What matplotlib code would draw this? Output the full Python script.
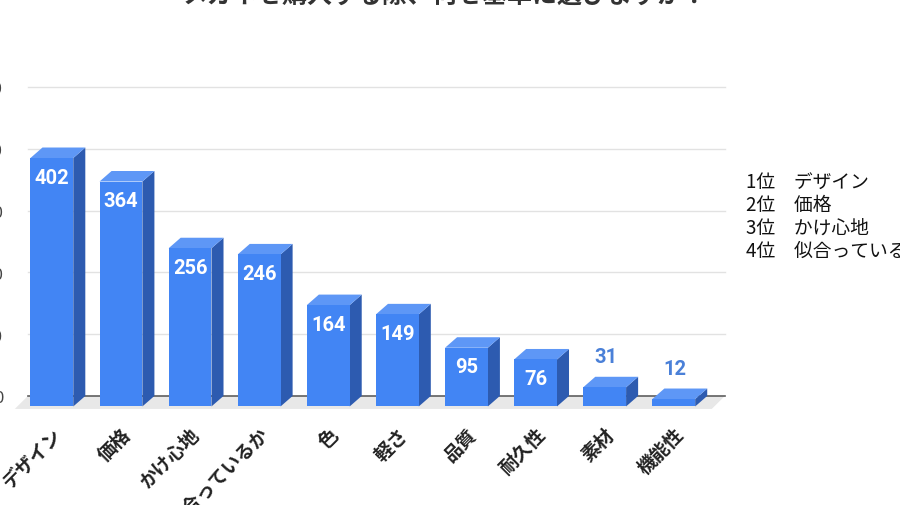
import numpy as np
import matplotlib.pyplot as plt
from matplotlib.patches import Polygon

plt.rcParams['font.family'] = ['Noto Sans CJK JP', 'DejaVu Sans']

# data
categories = ['デザイン', '価格', 'かけ心地', '似合っているか', '色',
              '軽さ', '品質', '耐久性', '素材', '機能性']
counts = [402, 364, 256, 246, 164, 149, 95, 76, 31, 12]
y_ticks = [0, 100, 200, 300, 400, 500]
ranking = ['1位　デザイン', '2位　価格', '3位　かけ心地', '4位　似合っているか']
title = 'メガネを購入する際、何を基準に選びますか？'

# colours / 3d look
c_front = '#4285F4'
c_side = '#2D5BB0'
c_top = '#5E97F6'
c_label_out = '#4A80D8'
w = 0.62      # bar width (category units)
dx = 0.174    # depth shift x
dy = 17       # depth shift y (value units)

fig = plt.figure(figsize=(9, 5.06), dpi=100)
ax = fig.add_axes([0.01156, 0.1789, 0.7985, 0.6717])
ax.set_xlim(-0.6, 9.8)
ax.set_ylim(-30, 520)
for s in ax.spines.values():
    s.set_visible(False)

x0, x1 = -0.346, 9.74
# floor
floor = Polygon([(x0, 0), (x1, 0), (x1 - 0.19, -21), (x0 - 0.19, -21)],
                closed=True, facecolor='#E8E8E8', edgecolor='none', zorder=0)
ax.add_patch(floor)
# gridlines (back plane)
for t in y_ticks[1:]:
    ax.plot([x0, x1], [t, t], color='#E2E2E2', lw=1, zorder=0.5)
ax.plot([x0, x1], [0, 0], color='#5F5F5F', lw=1.2, zorder=0.6)

for i, v in enumerate(counts):
    l, r = i - w / 2, i + w / 2
    side = Polygon([(r, -dy), (r + dx, 0), (r + dx, v), (r, v - dy)],
                   facecolor=c_side, edgecolor='none', zorder=2)
    top = Polygon([(l, v - dy), (r, v - dy), (r + dx, v), (l + dx, v)],
                  facecolor=c_top, edgecolor='none', zorder=2)
    ax.add_patch(side)
    ax.add_patch(top)
    ax.bar(i, v, width=w, bottom=-dy, color=c_front, zorder=3)
    if v > 50:
        ax.text(i, v - dy - 31, str(v), ha='center', va='center', color='white',
                fontsize=14.5, fontweight='bold', family=['Roboto', 'DejaVu Sans'], zorder=4)
    else:
        ax.text(i + 0.02, v + 33, str(v), ha='center', va='center', color=c_label_out,
                fontsize=14.5, fontweight='bold', family=['Roboto', 'DejaVu Sans'], zorder=4)

ax.set_yticks(y_ticks)
ax.set_yticklabels([str(t) for t in y_ticks], fontsize=12, color='#444444')
ax.set_xticks(np.arange(len(categories)) + 0.1)
ax.set_xticklabels(categories, rotation=45, ha='right', va='center',
                   rotation_mode='anchor', fontsize=13.5, fontweight='bold', color='#222222')
ax.tick_params(axis='y', length=0, pad=5.3)
ax.tick_params(axis='x', length=0, pad=12)

fig.text(445 / 900, 1.008, title, ha='center', va='center', fontsize=18,
         fontweight='bold', color='#333333')

for k, line in enumerate(ranking):
    fig.text(746 / 900, 1 - (183 + 22.7 * k) / 506, line, ha='left', va='center',
             fontsize=13.5, color='#111111')

fig.savefig('out.png', dpi=100)
